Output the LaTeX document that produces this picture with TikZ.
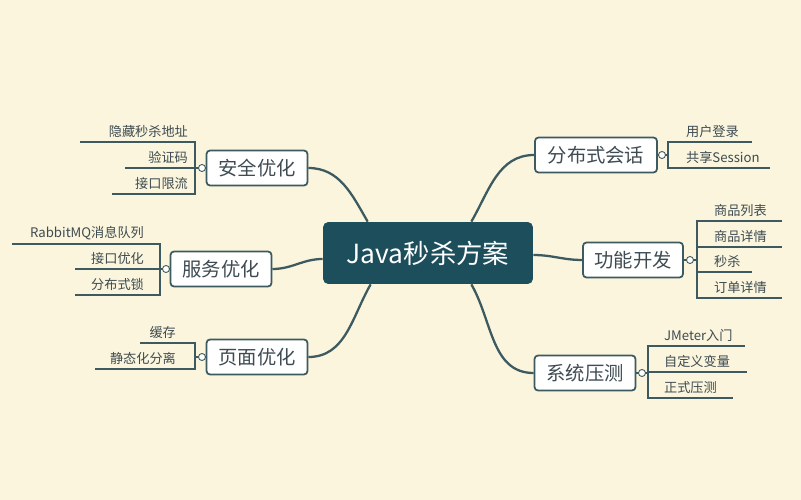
\documentclass[tikz,border=0pt]{standalone}
\usepackage{fontspec}
\setmainfont{Noto Sans CJK SC}
\usetikzlibrary{positioning}
\definecolor{bgcream}{HTML}{FAF5DC}
\definecolor{mainteal}{HTML}{1D4E5B}
\definecolor{edgegray}{HTML}{3C5A60}
\definecolor{textgray}{HTML}{3E4B52}

\begin{document}
\begin{tikzpicture}[
                    x=0.02cm, y=-0.02cm,
                    root/.style={rectangle, rounded corners=3pt, fill=mainteal, text=white, minimum width=4.2cm, minimum height=1.24cm, font=\fontsize{15}{15}\selectfont},
                    topic/.style={rectangle, rounded corners=2pt, draw=edgegray, line width=1pt, fill=white, text=textgray, minimum height=0.7cm, font=\fontsize{11}{11}\selectfont},
                    leaf/.style={inner sep=1pt, text=textgray, font=\fontsize{7.5}{7.5}\selectfont},
                    branch/.style={draw=edgegray, line width=1.3pt},
                    rule/.style={draw=edgegray, line width=0.8pt},
                    knob/.style={circle, draw=edgegray, fill=white, inner sep=0pt, minimum size=4pt, line width=0.5pt}
                ]
                    \fill[bgcream] (0,0) rectangle (801,500);

                    % centre and topics
                    \node[root] (core) at (428,253) {Java秒杀方案};
                    \node[topic, minimum width=2.02cm] (safe) at (257,168) {安全优化};
                    \node[topic, minimum width=2.02cm] (serv) at (221,269) {服务优化};
                    \node[topic, minimum width=2.02cm] (page) at (257,357) {页面优化};
                    \node[topic, minimum width=2.44cm] (sess) at (596,155) {分布式会话};
                    \node[topic, minimum width=2.0cm] (func) at (633,260) {功能开发};
                    \node[topic, minimum width=2.02cm] (test) at (585,373) {系统压测};

                    \draw[branch] (core.north west) ++(45,0) coordinate (c1) to[out=120, in=0] (safe.east);
                    \draw[branch] (core.west) ++(0,6) coordinate (c2) to[out=180, in=0] (serv.east);
                    \draw[branch] (core.south west) ++(48,0) coordinate (c3) to[out=240, in=0] (page.east);
                    \draw[branch] (core.north east) ++(-62,0) coordinate (c4) to[out=60, in=180] (sess.west);
                    \draw[branch] (core.east) ++(0,2) coordinate (c5) to[out=0, in=180] (func.west);
                    \draw[branch] (core.south east) ++(-62,0) coordinate (c6) to[out=300, in=180] (test.west);

                    % left leaves
                    \draw[rule] (safe.west) -- (195,168) coordinate (safeb);
                    \draw[rule] (80,142) -- (195,142) -- (195,194) -- (112,194);
                    \draw[rule] (125,168) -- (195,168);
                    \node[leaf, anchor=south east] (safe1) at (190,140) {隐藏秒杀地址};
                    \node[leaf, anchor=south east] (safe2) at (190,166) {验证码};
                    \node[leaf, anchor=south east] (safe3) at (190,192) {接口限流};
                    \node[knob] (safek) at (202,168) {};

                    \draw[rule] (serv.west) -- (160,269);
                    \draw[rule] (12,244) -- (160,244) -- (160,295) -- (75,295);
                    \draw[rule] (75,269) -- (160,269);
                    \node[leaf, anchor=south east] (serv1) at (146,242) {RabbitMQ消息队列};
                    \node[leaf, anchor=south east] (serv2) at (146,267) {接口优化};
                    \node[leaf, anchor=south east] (serv3) at (146,293) {分布式锁};
                    \node[knob] (servk) at (166,269) {};

                    \draw[rule] (page.west) -- (195,357);
                    \draw[rule] (140,343) -- (195,343) -- (195,369) -- (95,369);
                    \node[leaf, anchor=south east] (page1) at (178,341) {缓存};
                    \node[leaf, anchor=south east] (page2) at (178,367) {静态化分离};
                    \node[knob] (pagek) at (202,357) {};

                    % right leaves
                    \draw[rule] (sess.east) -- (668,155);
                    \draw[rule] (752,142) -- (668,142) -- (668,168) -- (770,168);
                    \node[leaf, anchor=south west] (sess1) at (684,140) {用户登录};
                    \node[leaf, anchor=south west] (sess2) at (684,166) {共享Session};
                    \node[knob] (sessk) at (662,155) {};

                    \draw[rule] (func.east) -- (697,260);
                    \draw[rule] (782,221) -- (697,221) -- (697,298) -- (782,298);
                    \draw[rule] (697,247) -- (782,247);
                    \draw[rule] (697,272) -- (752,272);
                    \node[leaf, anchor=south west] (func1) at (712,219) {商品列表};
                    \node[leaf, anchor=south west] (func2) at (712,245) {商品详情};
                    \node[leaf, anchor=south west] (func3) at (712,270) {秒杀};
                    \node[leaf, anchor=south west] (func4) at (712,296) {订单详情};
                    \node[knob] (funck) at (690,260) {};

                    \draw[rule] (test.east) -- (648,373);
                    \draw[rule] (745,346) -- (648,346) -- (648,398) -- (733,398);
                    \draw[rule] (648,372) -- (747,372);
                    \node[leaf, anchor=south west] (test1) at (662,344) {JMeter入门};
                    \node[leaf, anchor=south west] (test2) at (662,370) {自定义变量};
                    \node[leaf, anchor=south west] (test3) at (662,396) {正式压测};
                    \node[knob] (testk) at (642,373) {};
                \end{tikzpicture}
\end{document}
